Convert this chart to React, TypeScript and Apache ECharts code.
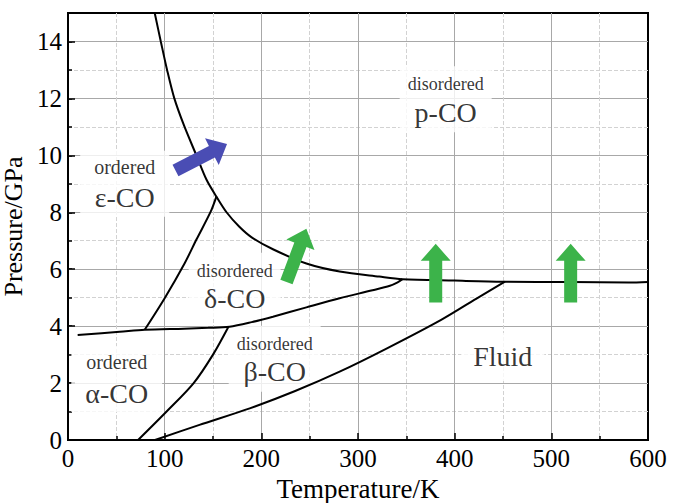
import React, { useEffect, useRef } from "react";
import * as echarts from "echarts";

// Phase boundaries [T (K), P (GPa)]
const boundaryEpsP = [[89.7,15],[96,14],[102.5,13],[110,12],[120,11.05],[132.8,10],[143.2,9.15],[153.5,8.55],[164,8.0],[177,7.5],[190,7.12],[212,6.7],[246.6,6.2],[281,5.92],[322,5.74],[346,5.65],[400,5.6],[450,5.56],[520,5.55],[580,5.53],[600,5.55]];
const boundaryEpsDelta = [[79.5,3.88],[100,4.98],[120.7,6.21],[133,7.05],[147.6,8.02],[153.5,8.55]];
const boundaryAlphaDeltaBeta = [[10,3.69],[53.5,3.8],[79.5,3.87],[120,3.91],[145,3.94],[167,3.98],[190,4.14],[212,4.33],[246.6,4.66],[281,4.98],[315,5.26],[333,5.42],[341,5.54],[346,5.65]];
const boundaryAlphaBeta = [[72.5,0],[102,1.0],[130,2.0],[150,3.0],[166,3.98]];
const meltingLine = [[90,0],[136,0.53],[188,1.11],[235,1.72],[281,2.4],[330,3.22],[386,4.22],[426,5.04],[452,5.56]];

// Arrows [T0, P0, T1, P1]
const arrowsBlue = [[111.2,9.47,164.5,10.4]];
const arrowsGreen = [[226,5.55,246.6,7.42],[380.4,4.83,380.4,6.89],[520,4.83,520,6.89]];

// Phase labels
const labelSmall = ["ordered", "disordered", "disordered", "disordered", "ordered", ""];
const labelBig = ["ε-CO", "p-CO", "δ-CO", "β-CO", "α-CO", "Fluid"];
const labelT = [58.7, 390.7, 172.4, 213.8, 50.4, 449.7];
const labelP = [9.0, 11.97, 5.42, 2.85, 2.14, 2.92];

const FONT = "'Liberation Serif', 'Times New Roman', serif";

export default function App() {
  const ref = useRef<HTMLDivElement>(null);
  useEffect(() => {
    if (!ref.current) return;
    const chart = echarts.init(ref.current, null, { renderer: "svg" });

    const lineSeries = (data: number[][]) => ({
      type: "line",
      data,
      smooth: 0.3,
      symbol: "none",
      z: 3,
      silent: true,
      lineStyle: { color: "#000", width: 2 },
    });

    const arrowData = [
      ...arrowsBlue.map((v) => ({ value: v, itemStyle: { color: "#4a4db4" } })),
      ...arrowsGreen.map((v) => ({ value: v, itemStyle: { color: "#3cb34a" } })),
    ];

    const labelData = labelBig.map((b, i) => {
      const s = labelSmall[i];
      let formatter: string;
      let padding: number[];
      if (!s) {
        formatter = `{bf|${b}}`;
        padding = [10, 12];
      } else if (s === "ordered") {
        formatter = `{o|${s}}\n{bo|${b}}`;
        padding = [2, 14];
      } else {
        formatter = `{d|${s}}\n{bd|${b}}`;
        padding = [5, 8];
      }
      return {
        value: [labelT[i], labelP[i]],
        label: { formatter, padding },
      };
    });

    const option: any = {
      animation: false,
      backgroundColor: "#fff",
      textStyle: { fontFamily: FONT, color: "#000" },
      grid: {
        left: 68,
        right: 25,
        top: 13,
        bottom: 63,
        outerBoundsMode: "none",
        containLabel: false,
        show: true,
        borderColor: "#000",
        borderWidth: 2,
        backgroundColor: "transparent",
      },
      xAxis: {
        type: "value",
        min: 0,
        max: 600,
        interval: 100,
        z: 1,
        name: "Temperature/K",
        nameLocation: "middle",
        nameGap: 34,
        nameTextStyle: { fontFamily: FONT, fontSize: 27, color: "#000" },
        axisLine: { show: true, lineStyle: { color: "#000", width: 2 } },
        axisTick: { show: true, inside: true, length: 7, lineStyle: { color: "#000", width: 1.5 } },
        minorTick: { show: true, splitNumber: 2, length: 4, lineStyle: { color: "#000", width: 1.5 } },
        axisLabel: { fontFamily: FONT, fontSize: 25, color: "#000", margin: 6 },
        splitLine: { show: true, showMinLine: false, showMaxLine: false, lineStyle: { color: "#a8a8a8", width: 1 } },
        minorSplitLine: { show: true, lineStyle: { color: "#d2d2d2", width: 1, type: "dashed" } },
      },
      yAxis: [
        {
          type: "value",
          position: "left",
          min: 0,
          max: 15,
          interval: 2,
          z: 1,
          name: "Pressure/GPa",
          nameLocation: "middle",
          nameGap: 32,
          nameTextStyle: { fontFamily: FONT, fontSize: 26, color: "#000" },
          axisLine: { show: true, lineStyle: { color: "#000", width: 2 } },
          axisTick: { show: true, inside: true, length: 7, lineStyle: { color: "#000", width: 1.5 } },
          axisLabel: { fontFamily: FONT, fontSize: 25, color: "#000", margin: 6, showMaxLabel: false },
          splitLine: { show: true, showMinLine: false, showMaxLine: false, lineStyle: { color: "#a8a8a8", width: 1 } },
        },
        {
          type: "value",
          position: "left",
          min: 0,
          max: 15,
          interval: 1,
          z: 0,
          axisLine: { show: false },
          axisTick: { show: true, inside: true, length: 4, lineStyle: { color: "#000", width: 1.5 } },
          axisLabel: { show: false },
          splitLine: { show: true, showMinLine: false, showMaxLine: false, lineStyle: { color: "#d2d2d2", width: 1, type: "dashed" } },
        },
      ],
      series: [
        {
          type: "scatter",
          symbolSize: 0,
          silent: true,
          z: 2,
          data: labelData,
          label: {
            show: true,
            position: "inside",
            align: "center",
            verticalAlign: "middle",
            backgroundColor: "#fff",
            color: "#000",
            fontFamily: FONT,
            rich: {
              o: { fontFamily: FONT, fontSize: 20, lineHeight: 28, color: "#000", align: "center" },
              d: { fontFamily: FONT, fontSize: 18, lineHeight: 26, color: "#000", align: "center" },
              bo: { fontFamily: FONT, fontSize: 28, lineHeight: 34, color: "#000", align: "center" },
              bd: { fontFamily: FONT, fontSize: 28, lineHeight: 30, color: "#000", align: "center" },
              bf: { fontFamily: FONT, fontSize: 28, lineHeight: 28, color: "#000", align: "center" },
            },
          },
        },
        lineSeries(boundaryEpsP),
        lineSeries(boundaryEpsDelta),
        lineSeries(boundaryAlphaDeltaBeta),
        lineSeries(boundaryAlphaBeta),
        lineSeries(meltingLine),
        {
          type: "custom",
          z: 4,
          silent: true,
          encode: { x: [0, 2], y: [1, 3] },
          data: arrowData,
          renderItem: (params: any, api: any) => {
            const a = api.coord([api.value(0), api.value(1)]);
            const b = api.coord([api.value(2), api.value(3)]);
            const dx = b[0] - a[0];
            const dy = b[1] - a[1];
            const len = Math.hypot(dx, dy);
            const ux = dx / len;
            const uy = dy / len;
            const nx = -uy;
            const ny = ux;
            const sw = 6.5;
            const hw = 15;
            const hl = 17;
            const nk = [b[0] - ux * hl, b[1] - uy * hl];
            const pts = [
              [a[0] + nx * sw, a[1] + ny * sw],
              [nk[0] + nx * sw, nk[1] + ny * sw],
              [nk[0] + nx * hw, nk[1] + ny * hw],
              b,
              [nk[0] - nx * hw, nk[1] - ny * hw],
              [nk[0] - nx * sw, nk[1] - ny * sw],
              [a[0] - nx * sw, a[1] - ny * sw],
            ];
            return {
              type: "polygon",
              shape: { points: pts },
              style: { fill: api.visual("color") },
            };
          },
        },
      ],
    };
    chart.setOption(option);
    return () => chart.dispose();
  }, []);

  return (
    <div
      ref={ref}
      style={{ position: "absolute", left: 0, top: 0, width: 673, height: 503 }}
    />
  );
}
